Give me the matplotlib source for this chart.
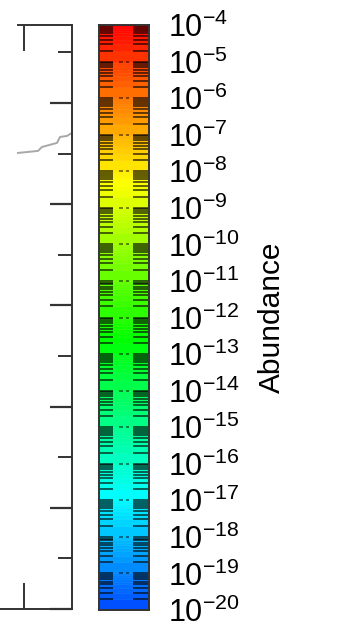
import numpy as np
import matplotlib.pyplot as plt
from matplotlib.colors import hsv_to_rgb
from matplotlib.ticker import MultipleLocator, FixedLocator, NullLocator

plt.rcParams['font.family'] = ['Liberation Sans', 'DejaVu Sans']

# contour levels of the abundance map: 1..9 x 10^n for each decade
decades = np.arange(-20, -4)
multipliers = np.arange(1, 10)
levels = np.append((multipliers[None, :] * 10.0 ** decades[:, None]).ravel(), 1e-4)
tick_exponents = np.arange(-20, -3)

# edge of the neighbouring panel and the trace that runs into it
trace_x = [1.94, 2.14, 2.18, 2.33, 2.36, 2.43, 2.48]
trace_y = [4.506, 4.526, 4.565, 4.605, 4.664, 4.674, 4.704]

fig = plt.figure(figsize=(3.47, 6.25), dpi=100)
edge = '#333333'

# neighbouring panel (mostly outside the figure)
ax = fig.add_axes([-176 / 347, 16 / 625, 248 / 347, 584 / 625])
ax.plot(trace_x, trace_y, color='#a8a8a8', lw=1.4)
ax.set_xlim(0, 2.48)
ax.set_ylim(0, 5.77)
ax.spines['left'].set_visible(False)
ax.spines['top'].set_bounds(1.94, 2.48)
for s in ax.spines.values():
    s.set_color(edge)
    s.set_linewidth(1.4)
ax.xaxis.set_major_locator(FixedLocator([2.0]))
ax.xaxis.set_ticks_position('both')
ax.tick_params(axis='x', direction='in', length=19, width=1.4, color=edge,
               labelbottom=False, labeltop=False)
ax.yaxis.set_major_locator(MultipleLocator(1))
ax.yaxis.set_minor_locator(MultipleLocator(0.5))
ax.yaxis.tick_right()
ax.tick_params(axis='y', which='major', direction='in', length=16, width=1.6,
               color=edge, labelright=False)
ax.tick_params(axis='y', which='minor', direction='in', length=10, width=1.4,
               color=edge)

# colour bar
cax = fig.add_axes([99 / 347, 15 / 625, 50 / 347, 585 / 625])
cax.set_yscale('log')
lo = levels[:-1]
hi = levels[1:]
mid = np.sqrt(lo * hi)
hue = 0.62 * (-4 - np.log10(mid)) / 16
colors = hsv_to_rgb(np.column_stack([hue, np.ones_like(hue), np.ones_like(hue)]))
cax.bar(np.zeros(len(lo)), hi - lo, bottom=lo, width=1, align='edge',
        color=colors, edgecolor=colors, linewidth=0.4)

inner = levels[1:-1]
cax.hlines(inner, 0.02, 0.28, colors='k', alpha=0.62, lw=1.4)
cax.hlines(inner, 0.68, 0.98, colors='k', alpha=0.62, lw=1.4)
decade_lines = 10.0 ** np.arange(-19, -4)
cax.hlines(decade_lines, 0.40, 0.47, colors='k', alpha=0.55, lw=1.2)
cax.hlines(decade_lines, 0.53, 0.60, colors='k', alpha=0.55, lw=1.2)

cax.set_xlim(0, 1)
cax.set_ylim(1e-20, 1e-4)
cax.set_xticks([])
cax.set_yticks(10.0 ** tick_exponents)
cax.set_yticklabels([rf'$\mathregular{{10^{{{e}}}}}$' for e in tick_exponents])
cax.yaxis.set_minor_locator(NullLocator())
cax.tick_params(axis='y', length=0, pad=14, labelsize=22,
                left=False, right=True, labelleft=False, labelright=True)
for s in cax.spines.values():
    s.set_color(edge)
    s.set_linewidth(1.4)

fig.text(272 / 347, 1 - 317 / 625, 'Abundance', rotation=90,
         ha='center', va='center', fontsize=21.5)

fig.savefig('out.png', dpi=100)
